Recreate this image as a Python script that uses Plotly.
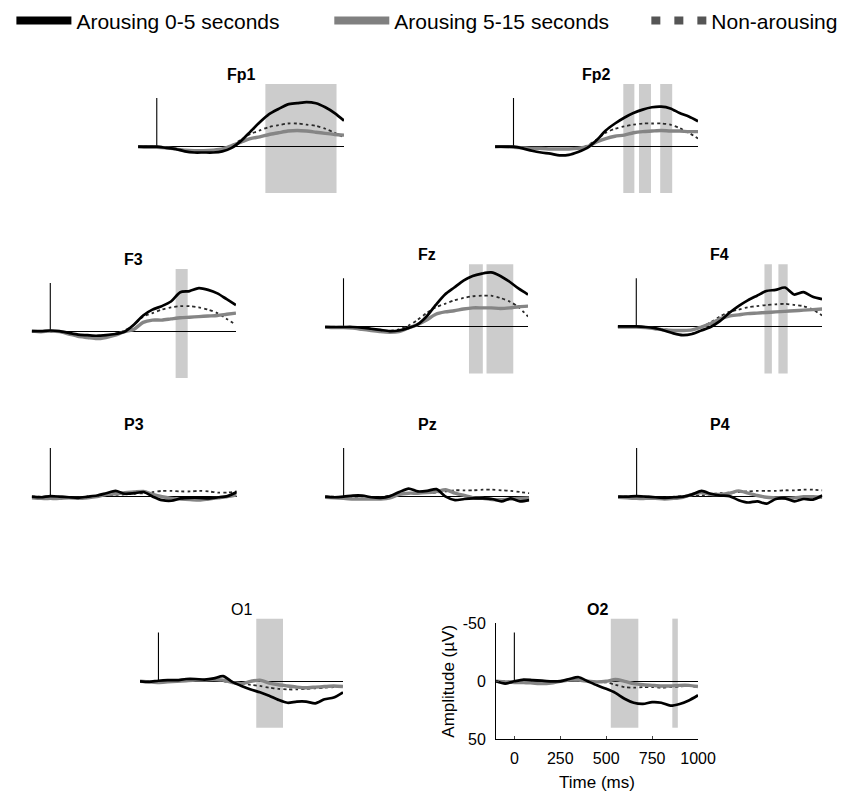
import plotly.graph_objects as go

# time axis (ms) shared by every channel
TIME_MS = [-100, -50, 0, 50, 100, 150, 200, 250, 300, 350, 400, 450,
           500, 550, 600, 650, 700, 750, 800, 850, 900, 950, 1000]

CHANNELS = ["Fp1", "Fp2", "F3", "Fz", "F4", "P3", "Pz", "P4", "O1", "O2"]
CONDITIONS = ["Arousing 0-5 seconds", "Arousing 5-15 seconds", "Non-arousing"]

X_TICKS = [0, 250, 500, 750, 1000]
Y_TICKS = [-50, 0, 50]
Y_TICK_TEXT = ["-50", "0", "50"]

# amplitudes in µV (negative plotted upward)
fp1_early = [0, 0, 0, 1, 2, 4, 5, 5, 5, 4, 1, -5, -13, -21, -28, -32.5, -36.5, -37.5, -38.5, -37.5, -34, -29, -22.5]
fp1_late = [0, 0.5, 0.5, 1, 2, 3, 3.5, 3.5, 3, 2, -1, -4, -7, -8.5, -10.5, -12, -13.5, -14, -13.5, -12.5, -11.5, -10.5, -10]
fp1_non = [0, 0, 0, 0.5, 1.5, 3, 4, 4, 4, 3, -1, -6, -11, -14, -17, -18.5, -20, -20, -19, -18, -15.5, -12, -8]

fp2_early = [0, 0, 0, 1.5, 3.5, 5, 6, 7.5, 7, 4.5, 1, -5.5, -14, -20, -25, -29, -32, -34, -34.5, -33, -29, -26, -22]
fp2_late = [0, 0, 0.5, 1, 1.5, 1.5, 2, 2, 2, 1.5, 0, -4, -7, -9, -10, -12, -13, -13.5, -14, -13.5, -13.5, -13, -13]
fp2_non = [0, 0, 0, 0.5, 1, 1.5, 2, 2, 2, 1.5, -1, -6, -12, -15.5, -17.5, -19, -20, -20, -20, -19, -16, -12, -7]

f3_early = [-0.5, -0.5, -1, -0.5, 1, 2.5, 3, 3.5, 3, 2, 0, -6, -14, -19, -22, -26, -34, -35, -37.5, -36, -33, -28, -23]
f3_late = [-0.5, 0, -0.5, 0, 2, 4, 5, 6, 5, 3, 0, -2, -8, -10, -10, -11, -12, -12.5, -13, -13.5, -14, -15, -16]
f3_non = [0, 0, 0, 0.5, 1.5, 3, 3.5, 3.5, 3, 2, -1, -6, -13, -16, -19, -21, -22, -22, -21, -19, -16, -11, -6]

fz_early = [0, 0, 0, 0, 0.5, 1.5, 2.5, 3.5, 3, 1, -2, -9, -19, -28, -34, -40, -44, -46, -47, -44, -39, -33, -28]
fz_late = [0, 0.5, 0.5, 1, 2, 3, 4, 4.5, 4, 1, -2, -6, -11, -13, -14, -15.5, -16.5, -16.5, -16.5, -16, -16.5, -17.5, -18]
fz_non = [0, 0, 0, 0.5, 1, 2, 3, 3.5, 2, -1, -6, -12, -17, -20, -23, -25, -26.5, -27, -27, -25, -22, -17, -9]

f4_early = [-0.5, -0.5, -0.5, 0, 1, 3, 5.5, 7, 6, 3, 0, -5, -12, -18, -23, -27, -31, -32, -34, -28, -30, -26, -24]
f4_late = [0, 0, 0, 0.5, 1.5, 2.5, 3, 3, 2.5, 0, -3, -7, -9.5, -10.5, -11.5, -12, -12.5, -13, -13.5, -14, -14.5, -15, -15.5]
f4_non = [0, 0, 0, 0.5, 1, 2, 3, 3.5, 2.5, 0, -4, -9, -13, -15, -17, -18, -19, -19.5, -20, -19, -18, -15, -10]

p3_early = [0, 0.5, -0.5, 0, 0.5, 1, 0, -1, -3, -5, -2.5, -3, -4, 0, 3, 3.5, 1.5, 1, 1, 1.5, 0.5, -0.5, -4]
p3_late = [1, 1.5, 1.5, 1.5, 1, 1.5, 1, 0, -2, -2.5, -3.5, -4, -4.5, -2, 0, 1.5, 2, 2.5, 3, 2, 1, 0, -1.5]
p3_non = [0, 0, 0, 0, 0.5, 0.5, 0, -0.5, -1, -1.5, -2, -2.5, -3, -4, -5, -5, -4.5, -4.5, -5, -4.5, -3.5, -3.5, -4.5]

pz_early = [0, 0.5, 0, -1, -1, 0.5, 1, -0.5, -4, -7, -4.5, -5, -6.5, 0, 3, 2, 1.5, 1.5, 2, 4, 1.5, 4, 3]
pz_late = [0.5, 1, 1.5, 2, 2, 2, 2, 1, -2, -3, -3, -3.5, -4.5, -6, -3, -1, 1, 1.5, 2.5, 2.5, 2, 1.5, 1]
pz_non = [0, 0, 0.5, 1, 1.5, 1, 0.5, -1, -2, -3, -3, -3, -3.5, -4.5, -5.5, -5.5, -5.5, -6, -6, -5.5, -5, -4, -3]

p4_early = [0, 0, -0.5, 0, 0.5, 1, 0.5, 0, -2, -5, -2.5, -1, -0.5, 3, 5, 4, 6, 2, 1.5, 4, 2, 2.5, -1]
p4_late = [0.5, 1, 1.5, 1.5, 1.5, 2, 1.5, 0.5, -2, -3.5, -2, -2, -3, -5, -3, -1, 0.5, 1, 1.5, 1, 0, 0, 0.5]
p4_non = [0, 0, 0, 0, 0.5, 0.5, 0, -0.5, -1, -1, -2, -3, -3.5, -4, -4.5, -5, -5, -5, -5.5, -5.5, -6, -6, -5.5]

o1_early = [0, 0.5, -0.5, -1, -1, -2, -2, -1.5, -2.5, -4.5, 0.5, 4, 7, 9.5, 12.5, 16, 18.5, 17.5, 17.5, 19, 15.5, 14, 9.5]
o1_late = [0, 0.5, 1, 0.5, 0, -0.5, -1, -1, -1.5, -1, 1, 2, 0, -1, 1.5, 3, 4, 5, 5.5, 5, 4.5, 4, 4.5]
o1_non = [0, 0, 0.5, 0.5, 0, -0.5, -1, -1, -1, 0, 1, 2, 3, 4, 5.5, 6.5, 7, 7, 6.5, 6, 5.5, 5, 4.5]

o2_early = [0, 2, 0, -1.5, -1, -0.5, 0, 0, -2, -3.5, 0, 3.5, 6.5, 10, 15, 18.5, 19.5, 18, 18.5, 21, 19.5, 16.5, 12]
o2_late = [0, 0.5, 1, 1, 1.5, 2, 1.5, 0, -1, -1, 0, 0.5, 0, -1.5, 0, 2, 3, 3.5, 4, 4, 3.5, 3.5, 4.5]
o2_non = [0, 0, 0.5, 0.5, 1, 1, 0.5, 0, -0.5, -0.5, 0, 0.5, 1, 3, 5, 5.5, 5, 5, 5.5, 5, 4.5, 4, 5]

# significant time windows (ms), shaded grey
fp1_windows = [(580, 960)]
fp2_windows = [(595, 655), (680, 745), (795, 860)]
f3_windows = [(675, 740)]
fz_windows = [(680, 755), (775, 920)]
f4_windows = [(690, 730), (765, 815)]
p3_windows = []
pz_windows = []
p4_windows = []
o1_windows = [(530, 675)]
o2_windows = [(525, 675), (860, 890)]

STIM_MARK_UV = -42
Y_RANGE = [50, -50]

series = {
    "Fp1": (fp1_early, fp1_late, fp1_non, fp1_windows),
    "Fp2": (fp2_early, fp2_late, fp2_non, fp2_windows),
    "F3": (f3_early, f3_late, f3_non, f3_windows),
    "Fz": (fz_early, fz_late, fz_non, fz_windows),
    "F4": (f4_early, f4_late, f4_non, f4_windows),
    "P3": (p3_early, p3_late, p3_non, p3_windows),
    "Pz": (pz_early, pz_late, pz_non, pz_windows),
    "P4": (p4_early, p4_late, p4_non, p4_windows),
    "O1": (o1_early, o1_late, o1_non, o1_windows),
    "O2": (o2_early, o2_late, o2_non, o2_windows),
}

# panel placement (paper fractions)
domains = {
    "Fp1": ([0.1530, 0.3953], [0.7566, 0.9001]),
    "Fp2": ([0.5730, 0.8118], [0.7566, 0.9001]),
    "F3": ([0.0279, 0.2682], [0.5276, 0.6712]),
    "Fz": ([0.3730, 0.6118], [0.5334, 0.6770]),
    "F4": ([0.7173, 0.9577], [0.5334, 0.6770]),
    "P3": ([0.0279, 0.2691], [0.3234, 0.4670]),
    "Pz": ([0.3730, 0.6133], [0.3234, 0.4670]),
    "P4": ([0.7177, 0.9580], [0.3234, 0.4670]),
    "O1": ([0.1553, 0.3941], [0.0949, 0.2385]),
    "O2": ([0.5741, 0.8118], [0.0949, 0.2385]),
}

FONT = "Liberation Sans, Arial, sans-serif"
styles = [
    dict(color="#000000", width=2.7),
    dict(color="#858585", width=3.4),
    dict(color="#2a2a2a", width=1.8, dash="dot"),
]

fig = go.Figure()
layout = dict(
    width=850, height=808,
    margin=dict(l=0, r=0, t=0, b=0, autoexpand=False),
    paper_bgcolor="white", plot_bgcolor="rgba(0,0,0,0)",
    font=dict(family=FONT, color="black"),
    showlegend=True,
    shapes=[], annotations=[],
)

for i, ch in enumerate(CHANNELS, start=1):
    xa = "x" if i == 1 else f"x{i}"
    ya = "y" if i == 1 else f"y{i}"
    early, late, non, windows = series[ch]
    xdom, ydom = domains[ch]
    with_axes = ch == "O2"

    # stimulus onset marker
    fig.add_trace(go.Scatter(x=[0, 0], y=[0, STIM_MARK_UV], mode="lines",
                             line=dict(color="black", width=1.1),
                             xaxis=xa, yaxis=ya, showlegend=False, hoverinfo="skip"))
    for vals, st, name in zip((non, late, early), (styles[2], styles[1], styles[0]),
                              (CONDITIONS[2], CONDITIONS[1], CONDITIONS[0])):
        fig.add_trace(go.Scatter(x=TIME_MS, y=vals, mode="lines", name=name,
                                 line=dict(shape="spline", smoothing=0.7, **st),
                                 xaxis=xa, yaxis=ya, showlegend=False))

    for t0, t1 in windows:
        layout["shapes"].append(dict(
            type="rect", xref=xa, yref=f"{ya} domain", x0=t0, x1=t1,
            y0=0.10, y1=1.04, fillcolor="#cccccc", line=dict(width=0), layer="below"))

    layout["annotations"].append(dict(
        text=ch if ch == "O1" else f"<b>{ch}</b>", showarrow=False,
        xref=f"{xa} domain", yref=f"{ya} domain", x=0.5, y=1,
        yanchor="middle", yshift=14, font=dict(size=16)))

    key_x = "xaxis" if i == 1 else f"xaxis{i}"
    key_y = "yaxis" if i == 1 else f"yaxis{i}"
    layout[key_x] = dict(domain=xdom, range=[-100, 1000], anchor=ya,
                         showgrid=False, zeroline=False,
                         showline=with_axes, linecolor="black", linewidth=1,
                         ticks="inside" if with_axes else "", ticklen=3,
                         showticklabels=with_axes, tickvals=X_TICKS,
                         tickfont=dict(size=16), ticklabelstandoff=4,
                         title=dict(text="Time (ms)" if with_axes else "",
                                    font=dict(size=17), standoff=10))
    layout[key_y] = dict(domain=ydom, range=Y_RANGE, anchor=xa,
                         showgrid=False, zeroline=True, zerolinecolor="black",
                         zerolinewidth=1.4,
                         showline=with_axes, linecolor="black", linewidth=1,
                         ticks="inside" if with_axes else "", ticklen=3,
                         showticklabels=with_axes, tickvals=Y_TICKS, ticktext=Y_TICK_TEXT,
                         tickfont=dict(size=16), ticklabelstandoff=6,
                         title=dict(text="Amplitude (µV)" if with_axes else "",
                                    font=dict(size=17), standoff=3))

# legend entries, one small legend per condition laid out across the top
legend_styles = [
    dict(color="#000000", width=8),
    dict(color="#808080", width=8),
    dict(color="#555555", width=8, dash="9px,14px"),
]
legend_ids = ["legend", "legend2", "legend3"]
legend_x = [0.004, 0.378, 0.751]
for name, st, lg, lx in zip(CONDITIONS, legend_styles, legend_ids, legend_x):
    fig.add_trace(go.Scatter(x=[None], y=[None], mode="lines", name=name, line=st,
                             showlegend=True, hoverinfo="skip", legend=lg))
    layout[lg] = dict(orientation="h", x=lx, xanchor="left", y=0.984, yanchor="middle",
                      font=dict(size=21, family=FONT), itemwidth=55,
                      bgcolor="rgba(0,0,0,0)")

fig.update_layout(**layout)
fig.write_html("out.html")
